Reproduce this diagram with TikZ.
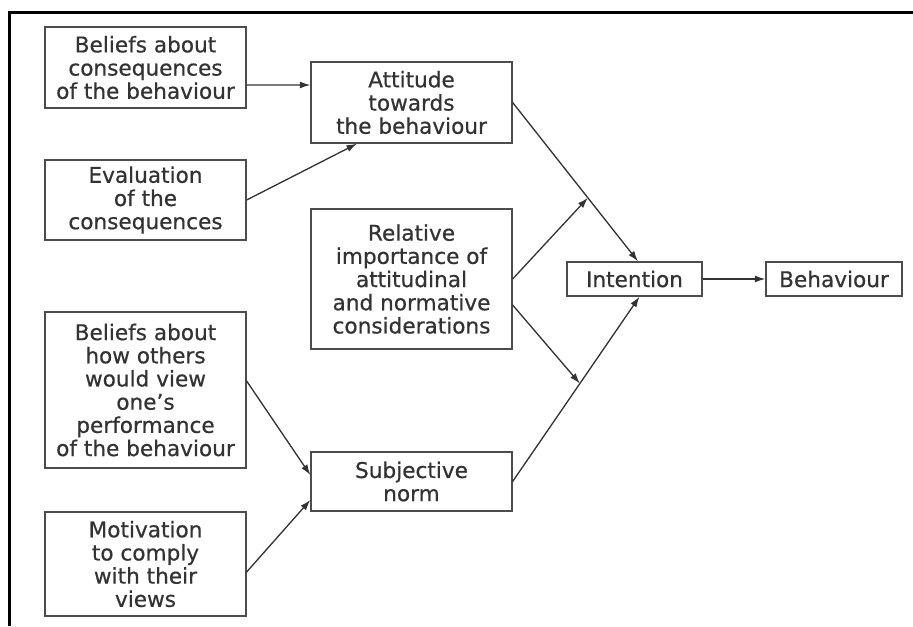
\documentclass[tikz,border=0pt]{standalone}
\usepackage{fontspec}
\setmainfont{DejaVu Sans}
\newfontfamily\boxfont{DejaVu Sans}[FakeBold=0.6]
\usetikzlibrary{arrows.meta}

\begin{document}
\begin{tikzpicture}[x=0.02cm, y=-0.02cm,
  box/.style={draw=black!70, line width=0.75pt, align=center, inner sep=0pt,
    minimum width=4.02cm, text=black!80, font=\boxfont\fontsize{12.3}{13.2}\selectfont},
  arr/.style={draw=black!80, line width=0.75pt, -{Latex[length=2.1mm,width=1.4mm]}}]

\useasboundingbox (0,0) rectangle (913,626);
\draw[line width=1.2pt] (9.5,626) -- (9.5,12.5) -- (913,12.5);

\node[box, minimum height=1.62cm] (bcons) at (145.5,67.5) {Beliefs about\\consequences\\of the behaviour};
\node[box, minimum height=1.6cm] (eval) at (145.5,200) {Evaluation\\of the\\consequences};
\node[box, minimum height=3.12cm] (bothers) at (145.5,390) {Beliefs about\\how others\\would view\\one’s\\performance\\of the behaviour};
\node[box, minimum height=2.08cm] (motiv) at (145.5,564) {Motivation\\to comply\\with their\\views};

\node[box, minimum height=1.62cm] (att) at (411.5,102.5) {Attitude\\towards\\the behaviour};
\node[box, minimum height=2.8cm] (rel) at (411.5,279) {Relative\\importance of\\attitudinal\\and normative\\considerations};
\node[box, minimum height=1.18cm] (subj) at (411.5,481.5) {Subjective\\norm};

\node[box, minimum width=2.7cm, minimum height=.68cm] (int) at (634.5,279) {Intention};
\node[box, minimum width=2.72cm, minimum height=.68cm] (beh) at (834,279) {Behaviour};

\draw[arr] ([yshift=-.35cm]bcons.east) -- ([yshift=.35cm]att.west);
\draw[arr] (eval.east) -- ([xshift=-1.09cm]att.south);
\draw[arr] (att.east) -- coordinate[pos=.6] (m1) ([xshift=.07cm]int.north);
\draw[arr] (subj.east) -- coordinate[pos=.53] (m2) ([xshift=.1cm]int.south);
\draw[arr] (rel.east) -- (m1);
\draw[arr] ([yshift=-.52cm]rel.east) -- (m2);
\draw[arr] ([yshift=.18cm]bothers.east) -- ([yshift=.13cm]subj.west);
\draw[arr] ([yshift=-.16cm]motiv.east) -- ([yshift=-.37cm]subj.west);
\draw[arr] (int) -- (beh);

\end{tikzpicture}
\end{document}
